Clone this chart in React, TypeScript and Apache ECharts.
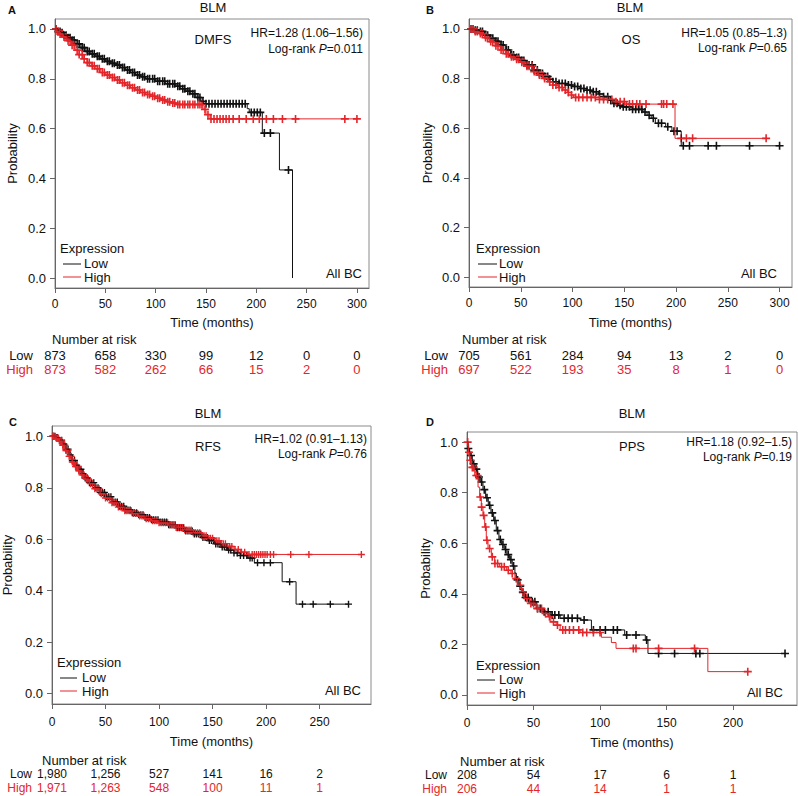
import React, { useEffect, useRef } from "react";
import * as echarts from "echarts";

const FONT = '"Liberation Sans", Arial, Helvetica, sans-serif';
const RED = "#e3262b";
const BLACK = "#111111";
const AXIS = "#666666";

// ---------- tick labels ----------
const xTicksAB = [0, 50, 100, 150, 200, 250, 300];
const xTicksC = [0, 50, 100, 150, 200, 250];
const xTicksD = [0, 50, 100, 150, 200];
const yTicks = [0, 0.2, 0.4, 0.6, 0.8, 1.0];

// ---------- Panel A : DMFS ----------
const lowA_t = [0, 3, 6, 9, 12, 16, 20, 25, 30, 35, 40, 45, 50, 55, 60, 65, 70, 75, 80, 85, 90, 100, 110, 120, 125, 130, 135, 140, 145, 148, 191, 193, 206, 223, 236];
const lowA_s = [1.0, 0.99, 0.985, 0.975, 0.965, 0.955, 0.94, 0.925, 0.91, 0.9, 0.89, 0.88, 0.87, 0.862, 0.855, 0.845, 0.835, 0.825, 0.815, 0.808, 0.8, 0.79, 0.78, 0.77, 0.76, 0.75, 0.74, 0.725, 0.71, 0.70, 0.68, 0.665, 0.582, 0.434, 0.0];
const highA_t = [0, 2, 5, 8, 12, 16, 20, 24, 28, 32, 36, 40, 45, 50, 55, 60, 65, 70, 75, 80, 85, 90, 95, 100, 105, 110, 115, 120, 147, 150, 154, 300];
const highA_s = [1.0, 0.99, 0.98, 0.968, 0.953, 0.935, 0.915, 0.897, 0.88, 0.865, 0.852, 0.84, 0.825, 0.815, 0.805, 0.795, 0.784, 0.774, 0.764, 0.755, 0.745, 0.737, 0.73, 0.722, 0.715, 0.708, 0.703, 0.697, 0.677, 0.656, 0.639, 0.639];
const lowA_cens = [1, 3, 5, 7, 9, 11, 13, 15, 17, 19, 22, 24, 27, 29, 32, 34, 37, 39, 42, 44, 47, 49, 52, 54, 57, 59, 62, 64, 67, 69, 72, 74, 77, 79, 82, 84, 87, 89, 92, 94, 97, 99, 102, 104, 107, 109, 112, 114, 117, 119, 122, 124, 127, 129, 132, 134, 137, 139, 142, 144, 147, 150, 153, 156, 159, 162, 165, 168, 171, 174, 177, 180, 183, 186, 189, 195, 198, 201, 204, 208, 214, 232];
const highA_cens = [1, 3, 5, 7, 9, 11, 13, 15, 17, 19, 22, 24, 27, 29, 32, 34, 37, 39, 42, 44, 47, 49, 52, 54, 57, 59, 62, 64, 67, 69, 72, 74, 77, 79, 82, 84, 87, 89, 92, 94, 97, 99, 102, 104, 107, 109, 112, 114, 117, 119, 122, 124, 127, 129, 132, 134, 137, 139, 142, 144, 146, 149, 152, 155, 158, 161, 164, 167, 170, 173, 177, 183, 190, 197, 203, 210, 217, 226, 239, 288, 300];
const riskLowA = ["873", "658", "330", "99", "12", "0", "0"];
const riskHighA = ["873", "582", "262", "66", "15", "2", "0"];

// ---------- Panel B : OS ----------
const lowB_t = [0, 5, 10, 15, 20, 25, 30, 35, 40, 45, 50, 55, 62, 67, 72, 77, 81, 87, 94, 100, 107, 113, 120, 125, 130, 135, 139, 144, 149, 158, 168, 172, 176, 180, 190, 196, 205, 300];
const lowB_s = [1.0, 0.995, 0.99, 0.975, 0.962, 0.95, 0.935, 0.915, 0.895, 0.885, 0.873, 0.855, 0.834, 0.82, 0.808, 0.797, 0.787, 0.78, 0.774, 0.768, 0.76, 0.753, 0.747, 0.738, 0.727, 0.713, 0.70, 0.692, 0.686, 0.676, 0.665, 0.652, 0.64, 0.62, 0.606, 0.588, 0.529, 0.529];
const highB_t = [0, 5, 10, 15, 20, 25, 30, 35, 40, 45, 50, 55, 62, 67, 72, 77, 81, 86, 91, 95, 99, 101, 126, 139, 152, 199, 287];
const highB_s = [1.0, 0.99, 0.982, 0.965, 0.949, 0.932, 0.915, 0.9, 0.888, 0.878, 0.866, 0.85, 0.828, 0.814, 0.80, 0.787, 0.774, 0.764, 0.754, 0.744, 0.734, 0.724, 0.716, 0.707, 0.697, 0.559, 0.559];
const lowB_cens = [2, 4, 6, 8, 11, 13, 16, 18, 21, 23, 26, 28, 31, 33, 36, 38, 41, 43, 46, 48, 51, 53, 56, 58, 61, 63, 66, 68, 71, 73, 76, 78, 81, 84, 87, 90, 93, 96, 99, 102, 105, 108, 111, 114, 117, 120, 123, 126, 130, 134, 137, 140, 143, 146, 149, 152, 155, 158, 161, 164, 167, 170, 174, 178, 183, 186, 192, 198, 201, 207, 213, 231, 239, 271, 300];
const highB_cens = [2, 4, 6, 8, 11, 13, 16, 18, 21, 23, 26, 28, 31, 33, 36, 38, 41, 43, 46, 48, 51, 53, 56, 58, 61, 63, 66, 68, 71, 73, 76, 78, 81, 84, 87, 90, 93, 96, 99, 103, 106, 110, 114, 118, 122, 126, 130, 134, 138, 142, 146, 150, 155, 158, 162, 165, 171, 186, 188, 191, 197, 205, 210, 216, 287];
const riskLowB = ["705", "561", "284", "94", "13", "2", "0"];
const riskHighB = ["697", "522", "193", "35", "8", "1", "0"];

// ---------- Panel C : RFS ----------
const lowC_t = [0, 4, 7, 10, 13, 16, 19, 22, 25, 28, 31, 35, 40, 45, 50, 56, 62, 68, 75, 81, 87, 93, 100, 109, 116, 124, 132, 140, 146, 152, 158, 164, 170, 176, 183, 189, 215, 228, 277];
const lowC_s = [1.0, 0.995, 0.985, 0.97, 0.95, 0.928, 0.906, 0.888, 0.872, 0.855, 0.838, 0.82, 0.8, 0.782, 0.765, 0.745, 0.728, 0.714, 0.703, 0.695, 0.685, 0.676, 0.667, 0.656, 0.645, 0.632, 0.62, 0.607, 0.595, 0.582, 0.57, 0.558, 0.547, 0.537, 0.527, 0.509, 0.435, 0.348, 0.348];
const highC_t = [0, 4, 7, 10, 13, 16, 19, 22, 25, 28, 31, 35, 40, 45, 50, 56, 62, 68, 75, 81, 87, 93, 100, 109, 116, 124, 132, 140, 146, 152, 158, 164, 170, 176, 183, 289];
const highC_s = [1.0, 0.993, 0.982, 0.965, 0.945, 0.922, 0.9, 0.882, 0.866, 0.85, 0.834, 0.816, 0.796, 0.777, 0.76, 0.742, 0.725, 0.711, 0.7, 0.69, 0.68, 0.672, 0.664, 0.655, 0.646, 0.636, 0.625, 0.614, 0.604, 0.594, 0.583, 0.572, 0.56, 0.55, 0.541, 0.541];
const lowC_cens = [1, 2, 4, 5, 7, 9, 11, 13, 15, 17, 19, 21, 23, 25, 27, 29, 31, 33, 35, 37, 39, 41, 43, 45, 47, 49, 51, 53, 55, 57, 59, 61, 63, 65, 67, 69, 71, 73, 75, 77, 79, 81, 83, 85, 87, 89, 91, 93, 95, 97, 99, 101, 103, 105, 107, 109, 111, 113, 115, 117, 119, 121, 123, 125, 127, 129, 131, 133, 135, 137, 139, 141, 143, 145, 147, 149, 151, 153, 155, 157, 159, 161, 163, 165, 167, 170, 173, 176, 179, 182, 185, 187, 192, 198, 204, 222, 234, 244, 260, 277];
const highC_cens = [0.5, 1.5, 3, 4, 5, 6, 7, 8, 9, 10, 11, 12, 13, 14, 15, 16, 17, 18, 19, 20, 21, 22, 23, 24, 25, 26, 28, 29, 30, 32, 33, 34, 36, 38, 40, 42, 44, 46, 48, 50, 52, 54, 56, 58, 60, 62, 64, 66, 68, 70, 72, 74, 76, 78, 80, 82, 84, 86, 88, 90, 92, 94, 96, 98, 100, 102, 104, 106, 108, 110, 112, 114, 116, 118, 120, 122, 124, 126, 128, 130, 132, 134, 136, 138, 140, 142, 144, 146, 148, 150, 152, 154, 156, 158, 160, 162, 164, 166, 168, 171, 174, 177, 180, 184, 187, 189, 191, 193, 195, 197, 199, 201, 204, 207, 223, 240, 289];
const riskLowC = ["1,980", "1,256", "527", "141", "16", "2"];
const riskHighC = ["1,971", "1,263", "548", "100", "11", "1"];

// ---------- Panel D : PPS ----------
const lowD_t = [0, 1, 2, 4, 6, 8, 10, 12, 14, 16, 18, 20, 22, 24, 26, 28, 30, 32, 34, 36, 37, 39, 41, 43, 47, 52, 57, 63, 70, 85, 93.5, 118.5, 134, 136, 239];
const lowD_s = [1.0, 0.975, 0.947, 0.914, 0.893, 0.862, 0.842, 0.812, 0.78, 0.75, 0.72, 0.69, 0.65, 0.615, 0.595, 0.575, 0.555, 0.535, 0.51, 0.482, 0.455, 0.43, 0.405, 0.385, 0.368, 0.342, 0.329, 0.316, 0.303, 0.296, 0.257, 0.237, 0.217, 0.164, 0.164];
const highD_t = [0, 1, 2, 3.3, 5.8, 8.3, 9.5, 10.8, 12, 13.3, 14.5, 15.8, 18.3, 20.8, 24.5, 29.6, 33, 36, 38, 41, 43, 47, 52, 57, 61, 63, 67, 70, 85, 101, 108.5, 112, 181, 211];
const highD_s = [1.0, 0.96, 0.928, 0.9, 0.868, 0.822, 0.783, 0.743, 0.71, 0.664, 0.612, 0.579, 0.546, 0.52, 0.507, 0.493, 0.48, 0.46, 0.434, 0.408, 0.382, 0.362, 0.342, 0.322, 0.309, 0.289, 0.276, 0.257, 0.247, 0.228, 0.207, 0.184, 0.092, 0.092];
const lowD_cens = [1, 3, 5, 7, 9, 11, 13, 15, 17, 19, 21, 23, 25, 27, 29, 31, 33, 35, 38, 40, 42, 44, 46, 49, 51, 53, 55, 58, 61, 64, 66, 69, 73, 76, 79, 83, 88, 95, 100, 104, 110, 113, 120, 127, 135, 144, 156, 172, 175, 239];
const highD_cens = [0.5, 1.5, 2.5, 4, 5, 7, 8, 10, 11, 12.5, 14, 15, 17, 19, 21, 23, 26, 28, 31, 34, 37, 40, 42, 45, 48, 50, 53, 56, 59, 62, 65, 68, 72, 74, 77, 80, 84, 87, 90, 95, 100, 125, 127, 144, 171, 211];
const riskLowD = ["208", "54", "17", "6", "1"];
const riskHighD = ["206", "44", "14", "1", "1"];

// ---------- annotation texts ----------
const geneName = "BLM";
const endpoints = ["DMFS", "OS", "RFS", "PPS"];
const hrTexts = ["HR=1.28 (1.06–1.56)", "HR=1.05 (0.85–1.3)", "HR=1.02 (0.91–1.13)", "HR=1.18 (0.92–1.5)"];
const pValues = ["0.011", "0.65", "0.76", "0.19"];
const letters = ["A", "B", "C", "D"];

// ---------- layout (positions only) ----------
const LAYOUT = [
  {
    grid: { left: 55, top: 19, width: 314, height: 269 }, xMax: 312, xTicks: xTicksAB, lm: 10, gapX: 28, gapY: 36, sym: 8, riskSize: 13,
    title: [213, 7], letter: [12, 10], ep: [213, 39], hr: [363, 33], lr: [363, 49], allbc: [362, 273],
    leg: { x: 60, y: 248, l1: 63, l2: 81, tx: 84, yLow: 263, yHigh: 277 },
    risk: { hx: 52, hy: 339, lx: 33, yLow: 355, yHigh: 369 },
  },
  {
    grid: { left: 469, top: 19, width: 323, height: 268 }, xMax: 312, xTicks: xTicksAB, lm: 10, gapX: 29, gapY: 35, sym: 8, riskSize: 13,
    title: [630, 7], letter: [430, 10], ep: [631, 39], hr: [787, 33], lr: [787, 48], allbc: [777, 273],
    leg: { x: 476, y: 248, l1: 478, l2: 497, tx: 499, yLow: 263, yHigh: 277 },
    risk: { hx: 462, hy: 339, lx: 448, yLow: 355, yHigh: 369 },
  },
  {
    grid: { left: 49, top: 426, width: 322, height: 278 }, xMax: 298, xTicks: xTicksC, lm: 12, gapX: 31, gapY: 38, sym: 7, riskSize: 12,
    title: [208, 413], letter: [13, 422], ep: [208, 446], hr: [367, 439], lr: [367, 454], allbc: [361, 690],
    leg: { x: 57, y: 662, l1: 60, l2: 77, tx: 82, yLow: 677, yHigh: 691 },
    risk: { hx: 42, hy: 760, lx: 32, yLow: 774, yHigh: 788 },
  },
  {
    grid: { left: 467, top: 432, width: 330, height: 273 }, xMax: 248, xTicks: xTicksD, lm: 12, gapX: 31, gapY: 35, sym: 8, riskSize: 12,
    title: [632, 413], letter: [430, 422], ep: [632, 446], hr: [792, 442], lr: [792, 457], allbc: [783, 692],
    leg: { x: 476, y: 665, l1: 477, l2: 495, tx: 499, yLow: 679, yHigh: 693 },
    risk: { hx: 460, hy: 761, lx: 447, yLow: 775, yHigh: 789 },
  },
];

const curves = [
  { low: [lowA_t, lowA_s, lowA_cens], high: [highA_t, highA_s, highA_cens], rl: riskLowA, rh: riskHighA },
  { low: [lowB_t, lowB_s, lowB_cens], high: [highB_t, highB_s, highB_cens], rl: riskLowB, rh: riskHighB },
  { low: [lowC_t, lowC_s, lowC_cens], high: [highC_t, highC_s, highC_cens], rl: riskLowC, rh: riskHighC },
  { low: [lowD_t, lowD_s, lowD_cens], high: [highD_t, highD_s, highD_cens], rl: riskLowD, rh: riskHighD },
];

const PLUS = "path://M4,0H6V4H10V6H6V10H4V6H0V4H4Z";

function stepAt(ts: number[], ss: number[], t: number): number {
  let v = ss[0];
  for (let i = 0; i < ts.length; i++) {
    if (ts[i] <= t) v = ss[i];
    else break;
  }
  return v;
}

function txt(text: string, x: number, y: number, o: any = {}) {
  const align = o.align || "left";
  const valign = o.valign || "middle";
  return {
    type: "text",
    x,
    y,
    silent: true,
    style: {
      text,
      fill: o.color || BLACK,
      fontSize: o.size || 13,
      fontFamily: FONT,
      fontWeight: o.bold ? "bold" : "normal",
      align,
      verticalAlign: valign,
      textAlign: align,
      textVerticalAlign: valign,
      rich: o.rich,
    },
  };
}

export default function App() {
  const ref = useRef<HTMLDivElement>(null);

  useEffect(() => {
    const chart = echarts.init(ref.current!, null, { renderer: "svg" });

    const grids: any[] = [];
    const xAxes: any[] = [];
    const yAxes: any[] = [];
    const series: any[] = [];

    LAYOUT.forEach((L, p) => {
      grids.push({ ...L.grid, show: true, borderColor: "#8a8a8a", borderWidth: 1, backgroundColor: "transparent" });
      xAxes.push({
        type: "value",
        gridIndex: p,
        min: 0,
        max: L.xMax,
        axisLine: { show: true, onZero: false, lineStyle: { color: AXIS, width: 1 } },
        axisTick: { show: true, customValues: L.xTicks, length: 5, lineStyle: { color: AXIS } },
        axisLabel: { customValues: L.xTicks, margin: L.lm, fontSize: 12, color: BLACK, fontFamily: FONT },
        splitLine: { show: false },
        name: "Time (months)",
        nameLocation: "middle",
        nameGap: L.gapX,
        nameTextStyle: { fontSize: 13, color: BLACK, fontFamily: FONT },
      });
      yAxes.push({
        type: "value",
        gridIndex: p,
        min: -0.04,
        max: 1.04,
        axisLine: { show: true, onZero: false, lineStyle: { color: AXIS, width: 1 } },
        axisTick: { show: true, customValues: yTicks, length: 5, lineStyle: { color: AXIS } },
        axisLabel: {
          customValues: yTicks,
          margin: 9,
          fontSize: 13,
          color: BLACK,
          fontFamily: FONT,
          formatter: (v: number) => v.toFixed(1),
        },
        splitLine: { show: false },
        name: "Probability",
        nameLocation: "middle",
        nameGap: L.gapY,
        nameTextStyle: { fontSize: 13, color: BLACK, fontFamily: FONT },
      });

      const C = curves[p];
      const groups: [any[], string][] = [
        [C.low, BLACK],
        [C.high, RED],
      ];
      groups.forEach(([g, color]) => {
        const ts = g[0] as number[];
        const ss = g[1] as number[];
        const cens = g[2] as number[];
        series.push({
          type: "line",
          xAxisIndex: p,
          yAxisIndex: p,
          step: "end",
          symbol: "none",
          showSymbol: false,
          silent: true,
          lineStyle: { width: 1, color },
          data: ts.map((t, i) => [t, ss[i]]),
        });
        series.push({
          type: "scatter",
          xAxisIndex: p,
          yAxisIndex: p,
          silent: true,
          symbol: PLUS,
          symbolSize: L.sym,
          itemStyle: { color, opacity: 1 },
          data: cens.map((t) => [t, stepAt(ts, ss, t)]),
        });
      });
    });

    chart.setOption({
      animation: false,
      backgroundColor: "#ffffff",
      textStyle: { fontFamily: FONT },
      grid: grids,
      xAxis: xAxes,
      yAxis: yAxes,
      series,
    });

    const els: any[] = [];
    LAYOUT.forEach((L, p) => {
      els.push(txt(geneName, L.title[0], L.title[1], { align: "center", size: 13 }));
      els.push(txt(letters[p], L.letter[0], L.letter[1], { align: "center", size: 11, bold: true }));
      els.push(txt(endpoints[p], L.ep[0], L.ep[1], { align: "center", size: 13 }));
      els.push(txt(hrTexts[p], L.hr[0], L.hr[1], { align: "right", size: 12 }));
      els.push(
        txt("Log-rank {i|P}=" + pValues[p], L.lr[0], L.lr[1], {
          align: "right",
          size: 12,
          rich: { i: { fontStyle: "italic", fontSize: 12, fontFamily: FONT, fill: BLACK, color: BLACK } },
        })
      );
      els.push(txt("All BC", L.allbc[0], L.allbc[1], { align: "right", size: 13 }));
      // legend
      els.push(txt("Expression", L.leg.x, L.leg.y, { size: 13 }));
      els.push({ type: "line", silent: true, shape: { x1: L.leg.l1, y1: L.leg.yLow + 1, x2: L.leg.l2, y2: L.leg.yLow + 1 }, style: { stroke: BLACK, lineWidth: 1 } });
      els.push({ type: "line", silent: true, shape: { x1: L.leg.l1, y1: L.leg.yHigh, x2: L.leg.l2, y2: L.leg.yHigh }, style: { stroke: RED, lineWidth: 1 } });
      els.push(txt("Low", L.leg.tx, L.leg.yLow, { size: 13 }));
      els.push(txt("High", L.leg.tx, L.leg.yHigh, { size: 13 }));
      // risk table
      const rs = L.riskSize;
      els.push(txt("Number at risk", L.risk.hx, L.risk.hy, { size: 13 }));
      els.push(txt("Low", L.risk.lx, L.risk.yLow, { align: "right", size: rs }));
      els.push(txt("High", L.risk.lx, L.risk.yHigh, { align: "right", size: rs, color: RED }));
      const C = curves[p];
      L.xTicks.forEach((t, i) => {
        const px = chart.convertToPixel({ xAxisIndex: p } as any, t) as unknown as number;
        els.push(txt(C.rl[i], px, L.risk.yLow, { align: "center", size: rs }));
        els.push(txt(C.rh[i], px, L.risk.yHigh, { align: "center", size: rs, color: RED }));
      });
    });

    chart.setOption({ graphic: { elements: els } });

    return () => chart.dispose();
  }, []);

  return (
    <div
      ref={ref}
      style={{ position: "fixed", left: 0, top: 0, width: 798, height: 796, background: "#ffffff" }}
    />
  );
}
